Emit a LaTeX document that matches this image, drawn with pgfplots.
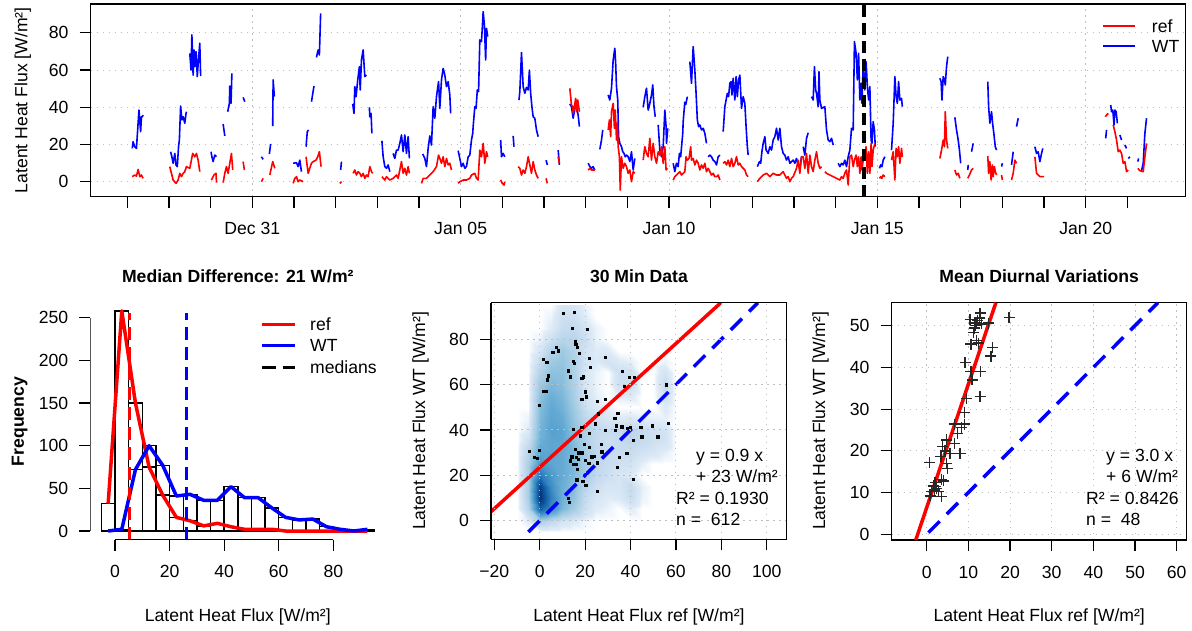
\documentclass[border=0pt]{standalone}
\usepackage{fontspec}
\setmainfont{Liberation Sans}
\usepackage{pgfplots}
\pgfplotsset{compat=1.18}
\usepackage{pgfplotstable}
\newcommand{\fs}{\fontsize{17.6}{21}\selectfont}

\pgfplotstableread{
d v
-2.88 2.7
-2.82 3.6
-2.78 3.0
-2.74 6.6
-2.70 2.7
-2.66 3.6
-2.62 1.8
nan nan
-1.98 8.1
-1.94 4.5
-1.90 0.9
-1.83 -0.9
-1.78 0.9
-1.74 4.5
-1.70 2.7
-1.66 4.5
-1.62 5.4
-1.58 8.1
-1.50 7.2
-1.43 15.2
-1.38 13.4
-1.34 15.2
-1.30 11.6
-1.26 5.4
nan nan
-0.98 0.9
-0.92 3.6
-0.87 4.5
-0.86 -0.5
nan nan
-0.70 -0.5
-0.66 4.5
-0.62 8.1
-0.58 4.5
-0.54 9.9
-0.50 15.2
-0.47 6.3
nan nan
-0.22 10.8
-0.19 6.3
nan nan
0.22 0.0
0.26 1.8
nan nan
0.42 3.6
0.49 10.8
0.54 7.2
nan nan
0.98 -0.9
1.02 1.8
1.06 2.7
1.10 0.0
1.14 0.9
1.22 0.0
nan nan
1.29 13.4
1.34 4.5
1.42 9.9
1.46 10.8
1.53 11.6
1.57 13.4
1.61 16.1
1.65 8.1
nan nan
2.10 -0.9
2.14 0.0
nan nan
2.42 4.5
2.46 6.3
2.50 3.6
2.54 5.4
2.58 4.5
2.62 2.7
2.66 4.5
2.70 1.8
2.74 3.6
2.78 2.7
2.82 8.1
2.86 5.4
2.89 4.5
nan nan
3.11 2.7
3.18 0.9
3.22 2.7
3.30 0.9
3.38 1.8
3.42 2.7
3.46 3.6
3.50 1.8
3.54 6.3
3.58 10.8
3.62 4.5
3.66 7.2
3.70 3.6
3.74 8.1
3.77 4.5
nan nan
4.06 -0.9
4.10 1.8
4.18 1.8
4.26 3.6
4.34 5.4
4.42 8.1
4.47 14.3
4.50 12.5
4.54 9.9
4.58 13.4
4.62 8.1
4.66 12.5
4.70 9.0
4.74 9.9
4.78 6.3
nan nan
4.94 -0.9
4.98 0.0
5.06 0.9
5.14 0.9
5.22 1.8
5.26 3.6
5.34 4.5
5.38 1.8
5.42 0.9
5.46 17.0
5.50 13.4
5.54 20.6
5.58 9.9
5.62 16.1
5.65 13.4
nan nan
5.96 0.9
6.00 -0.9
6.04 -1.8
6.06 0.0
nan nan
6.38 8.1
6.42 7.2
6.46 3.6
6.50 6.3
6.54 4.5
6.58 8.1
6.62 13.4
6.66 9.0
6.70 4.5
6.74 10.8
6.78 6.3
6.82 3.6
6.86 1.8
nan nan
7.05 1.8
7.08 -0.9
nan nan
7.34 13.4
7.37 9.9
nan nan
7.62 50.2
7.66 41.2
7.69 40.3
7.70 36.7
7.73 40.3
7.76 44.8
7.78 37.6
7.81 43.9
7.85 37.6
nan nan
8.06 6.3
8.10 7.2
8.14 6.3
8.18 6.3
8.22 6.3
nan nan
8.54 27.8
8.57 33.2
8.60 24.2
8.62 37.6
8.66 42.1
8.69 28.7
8.71 38.5
8.74 22.4
8.76 31.4
8.78 18.8
8.81 13.4
8.83 -4.5
8.86 13.4
8.90 7.2
8.94 9.9
8.98 8.1
9.02 4.5
9.06 6.3
9.10 0.0
9.14 5.4
9.18 4.5
nan nan
9.38 11.6
9.42 18.8
9.46 15.2
9.50 13.4
9.54 23.3
9.58 11.6
9.62 20.6
9.66 13.4
9.70 9.9
9.74 16.1
9.78 14.3
9.82 18.8
9.86 9.9
9.90 18.8
9.93 6.3
9.96 7.2
nan nan
10.10 0.9
10.14 2.7
10.18 3.6
10.22 4.5
10.26 5.4
10.30 3.6
10.34 4.5
10.38 5.4
10.41 13.4
10.44 11.6
10.48 12.5
10.52 18.8
10.54 11.6
10.58 12.5
10.62 9.0
10.66 11.6
10.70 9.9
10.74 6.3
10.78 9.0
10.82 7.2
10.86 9.9
10.90 5.4
10.94 7.2
10.98 5.4
11.02 3.6
11.06 4.5
11.10 2.7
11.14 2.7
11.18 3.6
11.22 0.9
nan nan
11.30 9.9
11.34 10.8
11.38 9.0
11.42 11.6
11.46 8.1
11.50 12.5
11.54 8.1
11.58 9.9
11.62 13.4
11.66 9.0
11.70 9.9
11.74 8.1
11.78 7.2
11.82 6.3
11.86 3.6
11.90 2.7
nan nan
12.12 0.0
12.18 1.8
12.26 3.6
12.34 4.5
12.38 3.6
12.42 2.7
12.50 4.5
12.58 3.6
12.66 3.6
12.74 5.4
12.82 1.8
12.86 2.7
12.90 0.0
12.94 1.8
12.98 2.7
13.06 7.2
13.10 11.6
13.14 4.5
13.18 13.4
13.22 13.4
13.26 7.2
13.30 15.2
13.34 4.5
13.38 14.3
13.42 8.1
13.46 5.4
13.50 11.6
13.54 16.1
13.58 9.9
13.62 7.2
13.66 8.1
nan nan
13.74 5.4
13.78 4.5
13.86 3.6
13.94 2.7
14.02 1.8
14.10 0.9
14.14 2.7
14.18 1.8
14.22 4.5
14.26 6.3
14.30 -1.8
14.34 13.4
14.38 14.3
14.42 8.1
14.45 11.6
14.49 14.3
14.52 8.1
14.55 13.4
14.58 4.5
14.61 13.4
14.63 6.3
14.66 11.6
14.70 13.4
14.73 18.8
14.76 4.5
14.79 16.1
14.82 4.5
14.85 20.6
14.87 8.1
14.90 17.0
14.94 20.6
nan nan
15.05 1.8
15.08 2.7
15.11 1.8
15.14 3.6
15.18 2.7
nan nan
15.34 11.6
15.38 16.1
15.42 0.9
15.45 17.9
15.48 13.4
15.51 18.8
15.54 9.9
15.58 17.9
15.60 13.4
nan nan
16.50 12.5
16.54 17.0
16.58 22.4
16.61 18.8
16.63 37.6
16.66 22.4
16.69 17.9
nan nan
16.86 6.3
16.90 3.6
16.94 4.5
16.98 1.8
nan nan
17.17 1.8
17.21 3.6
17.26 6.3
17.30 7.2
nan nan
17.65 13.8
17.67 4.5
17.70 10.8
17.73 0.9
17.76 9.0
17.78 2.7
17.81 8.1
17.83 5.4
17.86 3.6
nan nan
17.98 3.6
18.00 0.9
nan nan
18.22 0.9
18.26 4.5
18.30 11.6
18.34 9.9
nan nan
18.78 13.4
18.82 4.5
18.86 3.6
18.90 2.7
18.94 2.7
19.00 2.7
nan nan
20.47 34.9
20.50 35.8
20.54 36.7
nan nan
20.66 30.5
20.70 26.9
20.74 22.4
20.78 16.1
20.82 17.0
20.86 15.2
20.90 9.9
20.94 10.8
20.98 5.4
21.02 6.3
nan nan
21.25 7.2
21.30 5.9
21.38 5.4
21.42 13.4
21.46 20.6
}\refdata

\pgfplotstableread{
d v
-2.88 17.9
-2.86 21.5
-2.82 18.8
-2.78 17.9
-2.72 38.5
-2.68 26.9
-2.66 34.9
-2.64 34.9
-2.62 35.8
nan nan
-1.96 16.1
-1.93 13.4
-1.90 9.9
-1.86 15.2
-1.83 9.0
-1.80 8.1
-1.77 18.8
-1.75 22.4
-1.72 40.7
-1.69 33.2
-1.66 34.9
-1.62 31.4
-1.59 36.7
-1.58 37.6
nan nan
-1.50 69.0
-1.47 60.0
-1.45 78.9
-1.42 57.3
-1.40 70.8
-1.38 61.8
-1.35 69.9
-1.32 56.5
-1.29 66.3
-1.26 74.4
-1.24 56.8
nan nan
-0.99 16.1
-0.97 13.4
-0.94 10.8
-0.90 14.3
-0.86 13.4
nan nan
-0.70 31.0
-0.66 24.6
nan nan
-0.59 37.6
-0.55 42.1
-0.54 51.4
-0.51 42.1
-0.49 58.2
nan nan
-0.22 45.3
-0.18 43.0
nan nan
0.22 13.4
0.26 12.0
nan nan
0.41 14.9
0.44 20.3
nan nan
0.49 29.9
0.50 54.7
0.53 45.7
nan nan
0.98 9.9
1.06 10.2
1.10 8.1
1.14 11.6
1.18 5.4
nan nan
1.29 18.8
1.32 26.9
1.35 27.8
nan nan
1.42 43.0
1.48 51.4
nan nan
1.54 66.8
1.58 70.8
1.61 68.1
1.64 90.5
nan nan
2.12 6.3
2.14 10.8
nan nan
2.41 41.8
2.44 36.7
2.46 51.1
2.49 45.7
2.53 54.7
2.57 61.8
2.59 49.3
2.62 65.4
2.66 70.8
2.70 56.5
2.74 57.3
nan nan
2.81 40.0
2.82 34.9
2.85 36.7
2.87 26.0
nan nan
3.11 22.0
3.14 13.4
3.18 8.1
3.22 7.2
3.26 9.0
3.30 5.4
nan nan
3.38 15.2
3.42 12.5
3.46 17.0
3.50 17.0
3.54 20.6
3.58 25.1
3.62 16.1
3.66 25.1
3.70 15.2
3.74 24.2
3.77 12.5
nan nan
4.09 14.9
4.14 12.5
4.18 8.1
4.22 17.9
4.26 24.6
4.30 19.7
4.34 40.3
4.38 34.1
4.42 45.7
4.47 53.8
4.50 39.4
4.54 54.7
4.58 60.9
4.62 57.3
4.66 51.1
4.70 53.8
4.74 46.6
4.76 36.7
nan nan
4.94 16.7
4.98 12.5
5.02 8.1
5.06 9.9
5.10 7.2
5.14 8.1
5.18 13.4
5.22 14.3
5.26 22.4
5.29 26.0
5.30 29.6
5.34 40.3
5.37 39.4
5.40 49.3
5.43 48.4
5.46 76.2
5.50 75.3
5.53 86.9
5.54 91.4
5.57 84.2
5.60 65.4
5.62 82.4
5.65 78.0
nan nan
5.96 22.4
5.98 13.4
6.02 15.2
6.06 13.4
nan nan
6.26 24.6
6.28 18.8
nan nan
6.40 43.9
6.42 48.4
6.46 69.4
6.50 51.1
6.54 47.5
6.58 50.7
6.62 49.3
6.65 60.0
6.68 47.5
6.71 40.3
6.74 34.9
6.78 34.1
6.82 27.8
6.86 24.2
nan nan
7.05 11.6
7.08 9.0
nan nan
7.34 17.0
7.37 9.0
nan nan
7.62 41.8
7.66 40.3
7.70 34.1
7.74 39.4
7.78 40.3
7.82 35.8
7.85 29.6
nan nan
8.06 9.9
8.10 8.1
8.14 7.2
8.18 8.1
8.22 6.3
nan nan
8.34 17.4
8.38 22.4
8.41 27.8
nan nan
8.54 46.6
8.58 43.9
8.62 50.2
8.66 65.4
8.70 71.7
8.72 63.6
8.74 51.1
8.77 43.9
8.79 24.2
8.82 20.6
8.86 18.8
8.89 16.1
8.92 15.2
8.95 13.4
8.98 14.3
9.02 13.4
9.06 10.8
9.10 16.1
9.14 6.3
9.18 12.5
nan nan
9.38 40.0
9.42 45.7
9.46 50.2
9.50 38.5
9.54 42.1
9.58 46.6
9.61 52.0
9.64 40.3
9.67 34.9
nan nan
9.74 30.5
9.78 17.0
9.82 13.4
9.86 18.8
9.90 38.5
9.93 29.6
9.94 20.6
9.97 28.7
nan nan
10.10 9.9
10.14 5.4
10.18 9.9
10.22 8.1
10.25 15.2
10.28 13.4
10.33 26.0
10.34 32.3
10.38 43.0
nan nan
10.40 41.2
10.44 45.7
nan nan
10.50 64.5
10.54 52.9
10.58 72.6
10.62 60.0
10.65 47.5
10.68 33.2
10.71 29.6
10.74 30.5
10.78 27.8
10.82 28.7
10.86 26.0
10.90 20.6
nan nan
10.94 13.4
10.98 14.3
11.02 13.4
11.06 11.6
11.10 10.8
11.14 9.0
11.18 13.4
11.22 14.3
nan nan
11.30 26.9
11.34 40.3
11.37 43.9
11.40 47.5
11.43 45.7
11.46 52.9
11.49 53.8
11.51 46.6
11.54 55.6
11.58 43.9
11.61 56.5
11.64 45.7
11.67 54.7
11.70 57.3
11.74 39.4
11.78 45.7
11.82 42.1
11.85 29.6
11.88 18.8
11.90 14.3
nan nan
12.12 8.1
12.17 10.8
12.20 9.9
12.23 16.1
12.26 20.6
12.30 24.2
12.33 17.0
12.36 16.1
12.38 15.2
12.42 18.8
12.46 17.0
12.50 22.4
12.54 24.2
12.58 28.7
12.62 22.4
12.66 28.7
12.70 18.8
12.74 15.2
12.78 14.3
12.82 11.6
12.86 13.4
12.90 9.9
12.94 10.8
12.98 11.6
13.02 9.9
13.06 12.5
13.10 9.0
13.14 7.2
13.18 13.4
nan nan
13.22 18.8
13.26 14.3
13.30 23.3
13.34 26.3
nan nan
13.42 45.7
13.46 43.9
13.49 61.8
13.52 49.3
13.54 47.5
13.58 40.3
13.60 59.1
13.62 43.9
13.66 39.4
13.74 40.3
13.78 27.8
13.82 22.4
13.86 21.5
13.90 23.3
13.94 19.7
nan nan
14.06 9.9
14.10 8.1
14.14 9.9
14.18 9.0
14.22 11.6
14.26 8.1
14.30 13.4
14.34 17.0
14.38 28.7
14.42 27.8
14.45 75.3
14.49 69.0
14.52 54.7
14.55 69.0
14.58 43.9
14.61 52.9
14.63 42.1
14.66 62.7
14.70 49.3
14.73 64.5
14.76 51.1
14.79 43.9
14.82 51.1
14.85 22.4
14.87 20.6
14.90 32.3
14.93 27.8
14.95 18.8
nan nan
15.05 7.2
15.08 9.0
15.11 8.1
15.14 11.6
15.18 13.4
nan nan
15.34 17.0
15.38 31.4
15.42 56.5
15.45 45.7
15.48 42.1
15.51 53.8
15.54 43.9
15.58 44.8
15.60 40.3
nan nan
16.50 55.6
16.53 53.8
16.55 43.9
16.58 56.5
16.61 54.7
16.63 52.0
16.66 61.8
16.69 67.2
nan nan
16.86 34.6
16.90 27.8
16.94 22.4
16.97 17.0
17.00 9.9
nan nan
17.17 6.3
17.18 9.0
nan nan
17.26 16.1
17.30 20.6
nan nan
17.65 53.8
17.67 40.3
17.70 31.4
17.74 37.6
17.77 30.5
17.80 25.1
17.83 18.8
17.86 17.0
nan nan
17.98 8.1
18.00 9.9
nan nan
18.22 9.0
18.26 16.1
nan nan
18.34 29.6
18.38 34.1
nan nan
18.78 18.8
18.82 15.2
18.86 16.1
18.90 10.8
18.94 15.2
18.97 17.9
nan nan
20.48 23.3
20.50 27.8
nan nan
20.60 41.2
20.62 37.6
20.65 38.5
20.68 30.5
20.70 38.5
20.73 37.6
20.76 31.4
nan nan
20.82 25.1
20.86 22.4
nan nan
20.94 19.7
20.98 17.9
nan nan
21.02 12.5
21.06 13.4
nan nan
21.25 10.8
21.27 12.5
nan nan
21.34 5.9
21.38 9.9
21.42 26.0
21.46 34.1
}\wtdata

\pgfplotstableread{
x y
10.4 91.5
15.1 91.8
14.4 84.9
21.0 84.4
7.2 76.5
5.7 74.3
8.2 74.9
15.6 79.0
15.9 77.9
16.6 76.5
17.5 73.8
28.9 72.1
1.6 71.2
3.1 69.9
14.8 70.4
15.3 69.4
21.9 71.5
22.3 67.7
12.6 66.2
3.8 64.0
3.4 62.1
13.4 63.5
18.5 62.8
19.2 63.5
36.4 65.9
39.5 63.3
41.6 63.3
37.2 59.4
55.7 59.9
1.6 57.2
2.6 57.2
20.0 56.9
20.4 54.7
18.5 53.6
25.4 52.7
28.9 53.6
-0.2 50.9
25.8 47.1
33.1 45.3
34.4 47.4
14.8 40.3
18.5 41.2
21.9 38.6
17.9 37.4
24.4 42.7
28.8 40.0
33.2 40.0
33.6 41.8
36.2 41.5
38.6 40.8
39.8 41.2
44.5 41.2
49.6 41.8
56.7 43.0
41.3 35.6
45.0 37.1
51.9 37.1
-4.6 30.7
-2.4 28.0
-1.0 27.5
-0.2 31.2
19.7 33.8
21.9 32.4
27.0 33.8
15.6 31.5
17.0 30.0
18.5 30.0
27.3 30.4
14.1 28.2
16.0 28.0
22.9 28.2
24.0 28.5
13.4 26.5
17.0 27.0
20.0 26.8
25.4 25.6
14.8 25.0
16.0 25.0
21.5 25.4
35.0 28.0
38.4 29.7
34.2 23.6
16.6 22.7
16.3 18.0
18.9 17.5
20.3 15.7
25.4 13.1
12.6 9.9
13.1 8.2
41.3 18.4
38.0 29.7
}\scatpts

\pgfplotstableread{
x y
12.8 53.0
10.4 51.5
12.2 51.2
12.0 50.6
13.2 50.4
14.8 50.6
19.75 52.0
11.4 49.4
11.2 48.4
12.0 46.4
10.6 45.6
12.4 45.8
15.8 44.7
15.4 42.7
9.2 41.2
10.6 39.0
12.9 39.0
10.9 37.0
12.8 33.0
9.6 32.6
9.0 29.2
6.6 26.4
9.0 26.4
8.4 25.6
7.4 24.2
4.8 22.6
6.6 21.8
3.8 21.0
5.6 19.4
8.0 19.4
3.4 18.7
0.6 17.2
4.8 17.0
5.0 15.8
3.6 13.2
4.0 12.8
2.0 12.4
1.6 11.6
2.4 11.0
1.2 10.2
2.8 10.2
3.6 9.0
0.8 9.2
1.8 10.6
11.6 50.0
12.6 51.8
4.4 20.0
2.2 11.4
}\diurnal

\pgfplotstableread{
x y v
-10 -5 0
-5 -5 0
0 -5 0
5 -5 0
10 -5 0
15 -5 0
20 -5 0
25 -5 0
30 -5 0
35 -5 0
40 -5 0
45 -5 0
50 -5 0
55 -5 0
60 -5 0
-10 0 0
-5 0 0.05
0 0 0.25
5 0 0.18
10 0 0.1
15 0 0.06
20 0 0.02
25 0 0
30 0 0
35 0 0
40 0 0
45 0 0
50 0 0
55 0 0
60 0 0
-10 5 0
-5 5 0.2
0 5 0.82
5 5 0.62
10 5 0.4
15 5 0.27
20 5 0.12
25 5 0.05
30 5 0.03
35 5 0
40 5 0.05
45 5 0
50 5 0
55 5 0
60 5 0
-10 10 0
-5 10 0.25
0 10 1.0
5 10 0.68
10 10 0.45
15 10 0.34
20 10 0.15
25 10 0.08
30 10 0.05
35 10 0.06
40 10 0.14
45 10 0.03
50 10 0
55 10 0
60 10 0
-10 15 0
-5 15 0.25
0 15 0.95
5 15 0.62
10 15 0.45
15 15 0.36
20 15 0.2
25 15 0.12
30 15 0.08
35 15 0.08
40 15 0.15
45 15 0.04
50 15 0
55 15 0
60 15 0
-10 20 0
-5 20 0.25
0 20 0.72
5 20 0.56
10 20 0.47
15 20 0.39
20 20 0.27
25 20 0.17
30 20 0.12
35 20 0.08
40 20 0.06
45 20 0
50 20 0
55 20 0
60 20 0
-10 25 0
-5 25 0.25
0 25 0.58
5 25 0.5
10 25 0.47
15 25 0.39
20 25 0.27
25 25 0.18
30 25 0.14
35 25 0.12
40 25 0.1
45 25 0.04
50 25 0
55 25 0
60 25 0
-10 30 0
-5 30 0.2
0 30 0.5
5 30 0.5
10 30 0.47
15 30 0.39
20 30 0.27
25 30 0.18
30 30 0.14
35 30 0.14
40 30 0.14
45 30 0.1
50 30 0.08
55 30 0.04
60 30 0
-10 35 0
-5 35 0.12
0 35 0.45
5 35 0.5
10 35 0.5
15 35 0.36
20 35 0.24
25 35 0.16
30 35 0.12
35 35 0.15
40 35 0.18
45 35 0.15
50 35 0.12
55 35 0.1
60 35 0
-10 40 0
-5 40 0.05
0 40 0.42
5 40 0.52
10 40 0.5
15 40 0.34
20 40 0.24
25 40 0.16
30 40 0.14
35 40 0.15
40 40 0.18
45 40 0.15
50 40 0.12
55 40 0.1
60 40 0
-10 45 0
-5 45 0.03
0 45 0.4
5 45 0.5
10 45 0.47
15 45 0.32
20 45 0.18
25 45 0.12
30 45 0.08
35 45 0.06
40 45 0.07
45 45 0.05
50 45 0.04
55 45 0.04
60 45 0
-10 50 0
-5 50 0
0 50 0.38
5 50 0.48
10 50 0.43
15 50 0.29
20 50 0.12
25 50 0.06
30 50 0.03
35 50 0
40 50 0
45 50 0
50 50 0
55 50 0.06
60 50 0
-10 55 0
-5 55 0
0 55 0.35
5 55 0.45
10 55 0.4
15 55 0.26
20 55 0.1
25 55 0.04
30 55 0
35 55 0.05
40 55 0.06
45 55 0
50 55 0
55 55 0.12
60 55 0
-10 60 0
-5 60 0
0 60 0.3
5 60 0.4
10 60 0.37
15 60 0.24
20 60 0.08
25 60 0.03
30 60 0
35 60 0.12
40 60 0.12
45 60 0
50 60 0
55 60 0.15
60 60 0
-10 65 0
-5 65 0
0 65 0.22
5 65 0.35
10 65 0.35
15 65 0.24
20 65 0.08
25 65 0.03
30 65 0
35 65 0.12
40 65 0.12
45 65 0
50 65 0
55 65 0.1
60 65 0
-10 70 0
-5 70 0
0 70 0.15
5 70 0.3
10 70 0.33
15 70 0.24
20 70 0.1
25 70 0.06
30 70 0.1
35 70 0.06
40 70 0.04
45 70 0
50 70 0
55 70 0.03
60 70 0
-10 75 0
-5 75 0
0 75 0.08
5 75 0.22
10 75 0.3
15 75 0.22
20 75 0.1
25 75 0.05
30 75 0.06
35 75 0
40 75 0
45 75 0
50 75 0
55 75 0
60 75 0
-10 80 0
-5 80 0
0 80 0.03
5 80 0.12
10 80 0.2
15 80 0.2
20 80 0.12
25 80 0.03
30 80 0
35 80 0
40 80 0
45 80 0
50 80 0
55 80 0
60 80 0
-10 85 0
-5 85 0
0 85 0
5 85 0.05
10 85 0.14
15 85 0.16
20 85 0.1
25 85 0.03
30 85 0
35 85 0
40 85 0
45 85 0
50 85 0
55 85 0
60 85 0
-10 90 0
-5 90 0
0 90 0
5 90 0.03
10 90 0.12
15 90 0.12
20 90 0.05
25 90 0
30 90 0
35 90 0
40 90 0
45 90 0
50 90 0
55 90 0
60 90 0
-10 95 0
-5 95 0
0 95 0
5 95 0
10 95 0.08
15 95 0.08
20 95 0.03
25 95 0
30 95 0
35 95 0
40 95 0
45 95 0
50 95 0
55 95 0
60 95 0
}\density

\pgfplotsset{
  rstyle/.style={
    scale only axis, anchor=south west,
    axis line style={line width=1.2pt, black},
    every tick/.style={line width=1.2pt, black},
    tick align=outside,
    major tick length=11pt, minor tick length=11pt,
    xtick pos=left, ytick pos=left,
    ticklabel style={font=\fs, inner sep=0pt},
    xticklabel style={anchor=base, yshift=-27pt},
    yticklabel style={anchor=east, xshift=-11pt},
    /pgf/number format/assume math mode=true,
    major grid style={gray!50, line width=1pt, dash pattern=on 1.5pt off 4.5pt},
  }
}

\begin{document}
\begin{tikzpicture}[font=\fs]
\path[use as bounding box] (0pt,0pt) rectangle (1192pt,630pt);
\coordinate (TOPSW) at (90.7pt,433.3pt);
\coordinate (HISTSW) at (90.4pt,90.2pt);
\coordinate (SCATSW) at (491pt,90.7pt);
\coordinate (DIURSW) at (891.7pt,90pt);

% ---------- top time series ----------
\begin{axis}[rstyle,
  at={(TOPSW)}, width=1095pt, height=192.7pt,
  xmin=-3.878, xmax=22.40, ymin=-8.06, ymax=95.5,
  xtick={0,5,10,15,20},
  xticklabels={Dec 31,Jan 05,Jan 10,Jan 15,Jan 20},
  minor xtick={-3,-2,-1,1,2,3,4,6,7,8,9,11,12,13,14,16,17,18,19,21},
  ytick={0,20,40,60,80},
  xmajorgrids, ymajorgrids,
  unbounded coords=jump]
\addplot[blue, line width=1.6pt, line join=round] table[x=d, y=v] {\wtdata};
\addplot[red, line width=1.6pt, line join=round] table[x=d, y=v] {\refdata};
\addplot[black, line width=3.5pt, dash pattern=on 12pt off 6pt] coordinates {(14.68,-8.06) (14.68,95.5)};
\end{axis}

% ---------- histogram ----------
\begin{axis}[rstyle,
  at={(HISTSW)}, width=294.8pt, height=237.7pt,
  xmin=-9, xmax=99, ymin=-10.3, ymax=268.3,
  axis x line*=bottom, axis y line*=left,
  axis line style={draw=none},
  xtick={0,20,40,60,80}, ytick={0,50,100,150,200,250}]
\addplot[ybar interval, draw=black, fill=none, line width=1.4pt] coordinates {
(-5,32) (0,258) (5,150) (10,75) (15,42) (20,16) (25,12) (30,6) (35,9) (40,5)
(45,2) (50,2) (55,2) (60,0) (65,0) (70,0) (75,0) (80,0) (85,0) (90,0) (95,0)};
\addplot[ybar interval, draw=black, fill=none, line width=1.4pt] coordinates {
(-5,0) (0,2) (5,72) (10,100) (15,77) (20,41) (25,43) (30,36) (35,36) (40,52)
(45,39) (50,39) (55,27) (60,16) (65,13) (70,14) (75,5) (80,2) (85,0) (90,2) (95,2)};
\addplot[red, line width=3.5pt, line join=round] coordinates {
(-2.5,32) (2.5,258) (7.5,150) (12.5,75) (17.5,42) (22.5,16) (27.5,12) (32.5,6) (37.5,9)
(42.5,5) (47.5,2) (52.5,2) (57.5,2) (62.5,0) (67.5,0) (72.5,0) (77.5,0) (82.5,0) (87.5,0) (92.5,0)};
\addplot[blue, line width=3.5pt, line join=round] coordinates {
(-2.5,0) (2.5,2) (7.5,72) (12.5,100) (17.5,77) (22.5,41) (27.5,43) (32.5,36) (37.5,36)
(42.5,52) (47.5,39) (52.5,39) (57.5,27) (62.5,16) (67.5,13) (72.5,14) (77.5,5) (82.5,2) (87.5,0) (92.5,2)};
\addplot[red, line width=3.5pt, dash pattern=on 13pt off 7pt] coordinates {(5.25,-10.3) (5.25,256)};
\addplot[blue, line width=3.5pt, dash pattern=on 13pt off 7pt] coordinates {(26.25,-10.3) (26.25,256)};
\draw[line width=1.2pt] (axis cs:0,-10.3) -- (axis cs:80,-10.3);
\draw[line width=1.2pt] (axis cs:-9,0) -- (axis cs:-9,250);
\end{axis}

% ---------- 30 min scatter ----------
\begin{axis}[rstyle,
  at={(SCATSW)}, width=295.7pt, height=236.6pt,
  view={0}{90},
  xmin=-21.45, xmax=108.8, ymin=-8.2, ymax=96.1,
  xtick={-20,0,20,40,60,80,100},
  xticklabels={−20,0,20,40,60,80,100},
  ytick={0,20,40,60,80},
  xmajorgrids, ymajorgrids, axis on top,
  colormap={rblues}{rgb255(0)=(255,255,255) rgb255(5)=(222,235,247) rgb255(15)=(198,219,239)
    rgb255(30)=(158,202,225) rgb255(45)=(107,174,214) rgb255(60)=(66,146,198)
    rgb255(75)=(33,113,181) rgb255(88)=(8,81,156) rgb255(100)=(8,48,107)},
  point meta min=0, point meta max=1]
\addplot3[surf, shader=interp, mesh/rows=21, mesh/cols=15] table[x=x, y=y, z=v] {\density};
\addplot[only marks, mark=square*, mark size=1.2pt, black] table[x=x, y=y] {\scatpts};
\addplot[red, line width=3.5pt] coordinates {(-21.45,3.98) (79.8,96.1)};
\addplot[blue, line width=3.5pt, dash pattern=on 16pt off 10pt] coordinates {(-5,-5) (96.1,96.1)};
\end{axis}

% ---------- mean diurnal ----------
\begin{axis}[rstyle,
  at={(DIURSW)}, width=295pt, height=237.3pt,
  xmin=-8.4, xmax=62.4, ymin=-1.37, ymax=55.5,
  xtick={0,10,20,30,40,50,60}, ytick={0,10,20,30,40,50},
  xmajorgrids, ymajorgrids]
\addplot[only marks, mark=+, mark size=5.5pt, black!85, mark options={line width=1.4pt}] table[x=x, y=y] {\diurnal};
\addplot[red, line width=3.5pt] coordinates {(-2.63,-1.37) (16.6,55.5)};
\addplot[blue, line width=3.5pt, dash pattern=on 16pt off 10pt] coordinates {(0.4,0.4) (55.5,55.5)};
\end{axis}

% ---------- legends and texts ----------
\begin{scope}[x=1pt, y=1pt]
\draw[color=red, line width=2pt] (1103,604.3) -- (1135,604.3);
\draw[color=blue, line width=2pt] (1103,584.3) -- (1135,584.3);
\node[anchor=base west, inner sep=0pt] at (1151.7,597.7) {ref};
\node[anchor=base west, inner sep=0pt] at (1151.7,577.7) {WT};
\node[rotate=90, anchor=base, inner sep=0pt] at (27.3,529.7) {Latent Heat Flux [W/m²]};

\draw[red, line width=3.5pt] (261.7,305.7) -- (295,305.7);
\draw[blue, line width=3.5pt] (261.7,284.3) -- (295,284.3);
\draw[black, line width=3.5pt, dash pattern=on 14pt off 7pt] (261.7,262.7) -- (295,262.7);
\node[anchor=base west, inner sep=0pt] at (310,299) {ref};
\node[anchor=base west, inner sep=0pt] at (310,278.3) {WT};
\node[anchor=base west, inner sep=0pt] at (310,256.7) {medians};
\node[anchor=base, inner sep=0pt] at (237.8,347.3) {\bfseries Median Difference: 21 W/m²};
\node[anchor=base, inner sep=0pt] at (237.8,9) {Latent Heat Flux [W/m²]};
\node[rotate=90, anchor=base, inner sep=0pt] at (24,208.5) {\bfseries Frequency};

\node[anchor=base west, inner sep=0pt] at (696,168.3) {y = 0.9 x};
\node[anchor=base west, inner sep=0pt] at (696,147.3) {+ 23 W/m²};
\node[anchor=base west, inner sep=0pt] at (676,125.7) {R² = 0.1930};
\node[anchor=base west, inner sep=0pt] at (676,105) {n =\ \ 612};
\node[anchor=base, inner sep=0pt] at (638.9,347.3) {\bfseries 30 Min Data};
\node[anchor=base, inner sep=0pt] at (638.9,9) {Latent Heat Flux ref [W/m²]};
\node[rotate=90, anchor=base, inner sep=0pt] at (425,209.2) {Latent Heat Flux WT [W/m²]};

\node[anchor=base west, inner sep=0pt] at (1106,168.3) {y = 3.0 x};
\node[anchor=base west, inner sep=0pt] at (1106,147.3) {+ 6 W/m²};
\node[anchor=base west, inner sep=0pt] at (1086,125.7) {R² = 0.8426};
\node[anchor=base west, inner sep=0pt] at (1086,105) {n =\ \ 48};
\node[anchor=base, inner sep=0pt] at (1039.2,347.3) {\bfseries Mean Diurnal Variations};
\node[anchor=base, inner sep=0pt] at (1039.2,9) {Latent Heat Flux ref [W/m²]};
\node[rotate=90, anchor=base, inner sep=0pt] at (825,209.2) {Latent Heat Flux WT [W/m²]};
\end{scope}
\end{tikzpicture}
\end{document}
